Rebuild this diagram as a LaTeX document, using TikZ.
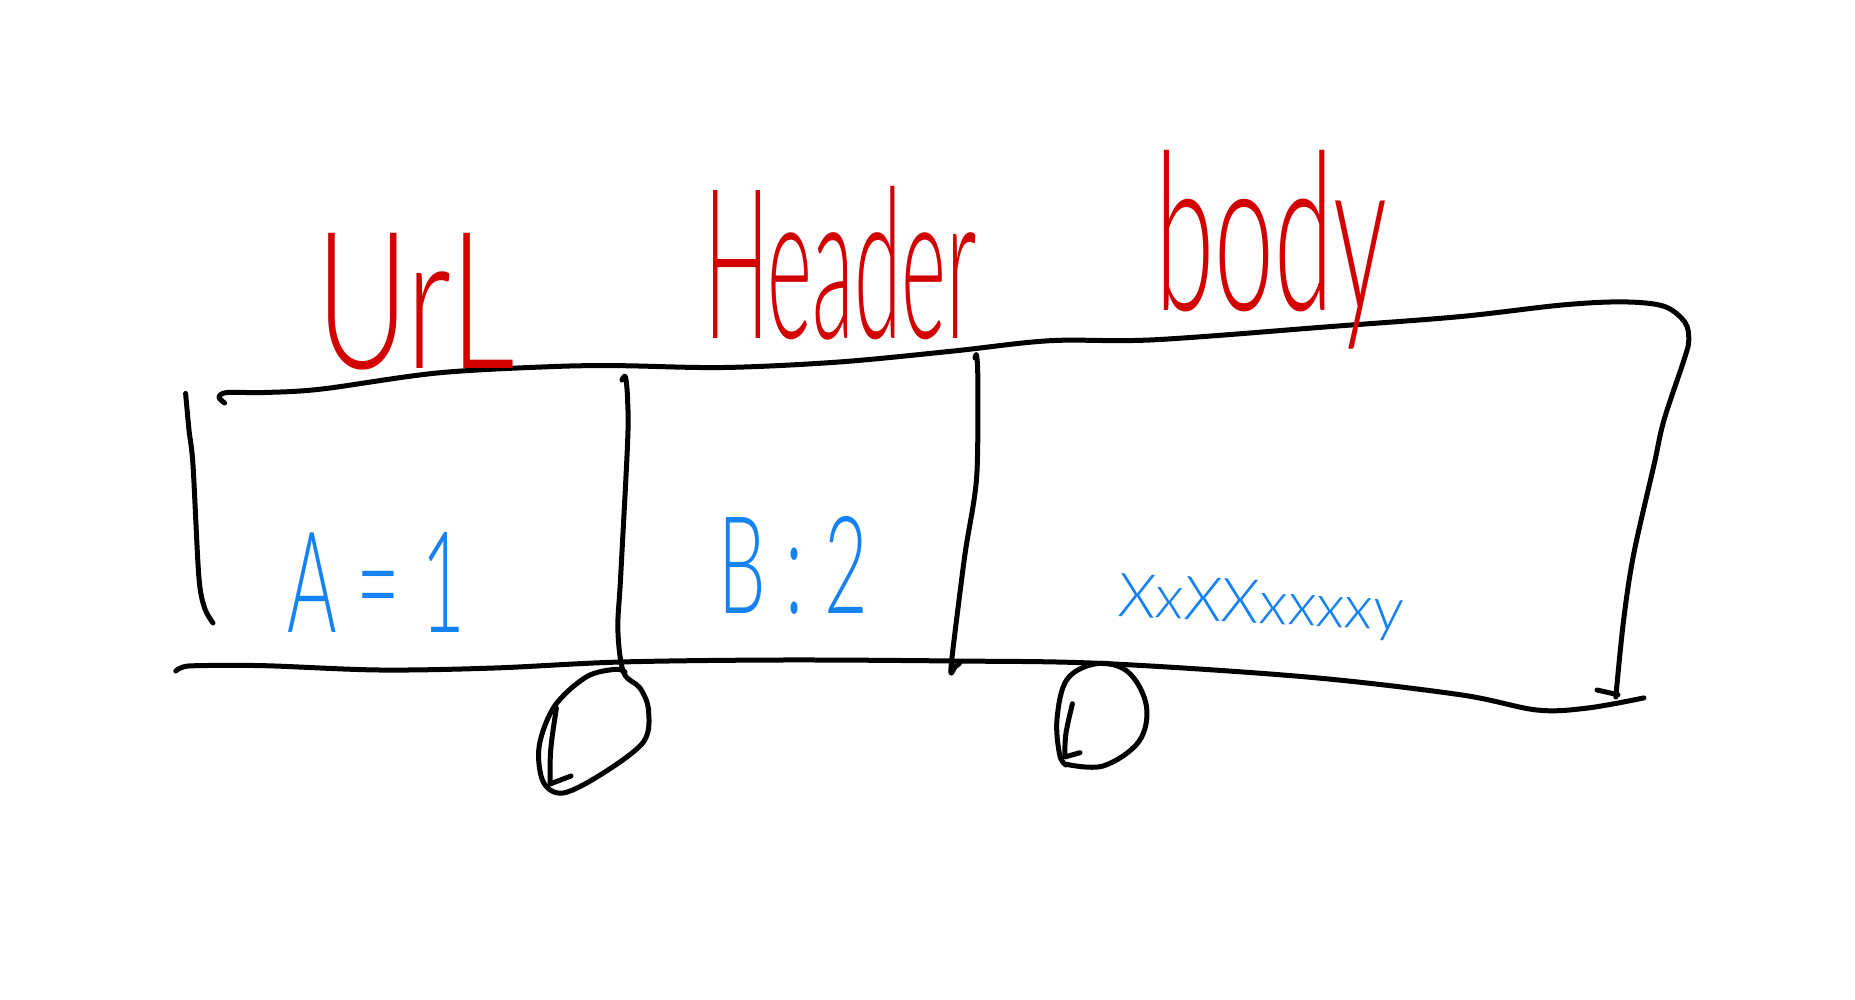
\documentclass[tikz,border=0pt]{standalone}
\usepackage{fontspec}
\usepackage{graphicx}
\IfFontExistsTF{Lato Light}
  {\newfontfamily\hand{Lato Light}}
  {\IfFontExistsTF{Lato Thin}
    {\newfontfamily\hand{Lato Thin}}
    {\newfontfamily\hand{lmmonoproplt10-regular.otf}}}
\definecolor{inkred}{RGB}{210,0,0}
\definecolor{inkblue}{RGB}{20,130,245}
\begin{document}
\begin{tikzpicture}[x=1pt,y=-1pt,
  ink/.style={line width=5pt,line cap=round,line join=round,black},
  lbl/.style={inner sep=0pt,outer sep=0pt,anchor=base west}]
\useasboundingbox[fill=white] (0,0) rectangle (1855,1000);

% top edge and right side
\draw[ink] plot[smooth,tension=0.55] coordinates {(224.6,403) (218.9,397) (227.5,392.5) (264.8,392.5) (322,389) (437,373) (552,366.6) (620.7,365.7) (724,367.5) (839,362) (953.7,351) (1050,340.7) (1154,339.8) (1332.7,326.4) (1460,316.6) (1562,305) (1623.5,301.9) (1664,306.3) (1684.7,322) (1688.8,339.8) (1684.7,357.7) (1664,420) (1654,464.8) (1633.7,554) (1623.5,621) (1615.8,697)};

% bottom edge
\draw[ink] plot[smooth,tension=0.55] coordinates {(175.8,671) (181.6,667.5) (196,665.7) (264.8,665.7) (379.6,670) (494.4,668) (620.7,662) (781.5,660) (953.7,661) (1103,663.5) (1307,677) (1460,694.7) (1536.7,710) (1587.8,708) (1643.9,697.9)};
\draw[ink] (1597,690) -- (1618,694.7);

% left side
\draw[ink] plot[smooth] coordinates {(185.6,393.4) (189,430) (193,465) (198.8,576) (204.5,607.7) (213,623)};

% divider 1 with loop
\draw[ink] plot[smooth,tension=0.55] coordinates {(622,380) (625.5,377) (627.6,400) (627.6,442.5) (620.7,576) (617.9,630) (623.6,672.4) (640,688) (648.5,710) (643.7,741.6) (603.5,772.9) (563.3,793) (543.2,781.8) (539.2,746) (554.7,705.9) (586.3,676.9) (615,669.3) (625,672)};
\draw[ink] (556.4,708) .. controls (550,750) .. (550,784) -- (571,776);

% divider 2
\draw[ink] plot[smooth] coordinates {(975,358) (976.6,355.4) (977.8,380) (976.6,478) (965,554) (953.7,643) (950.8,672.4) (955,667) (959.4,663.5)};

% loop 2
\draw[ink] plot[smooth,tension=0.6] coordinates {(1064.8,764) (1103,766) (1138.8,741.6) (1146.4,706) (1128.6,672.4) (1098,663.5) (1067.3,679) (1057,719) (1059.7,755) (1066,765)};
\draw[ink] (1072.4,703.7) .. controls (1065,735) .. (1064.8,757) -- (1080,752.7);

% labels
\node[lbl,text=inkred] (url) at (316,368) {\resizebox{199pt}{135pt}{\hand UrL}};
\node[lbl,text=inkred] (header) at (704,338) {\resizebox{273pt}{152pt}{\hand Header}};
\node[lbl,text=inkred] (body) at (1155,310) {\resizebox{232pt}{160pt}{\hand body}};
\node[lbl,text=inkblue] (a) at (287,632) {\resizebox{178pt}{100pt}{\hand A = 1}};
\node[lbl,text=inkblue] (b) at (718,613) {\resizebox{150pt}{97pt}{\hand B : 2}};
\node[lbl,text=inkblue,rotate=-3] (x) at (1117,616) {\resizebox{286pt}{43pt}{\hand XxXXxxxxy}};
\end{tikzpicture}
\end{document}
